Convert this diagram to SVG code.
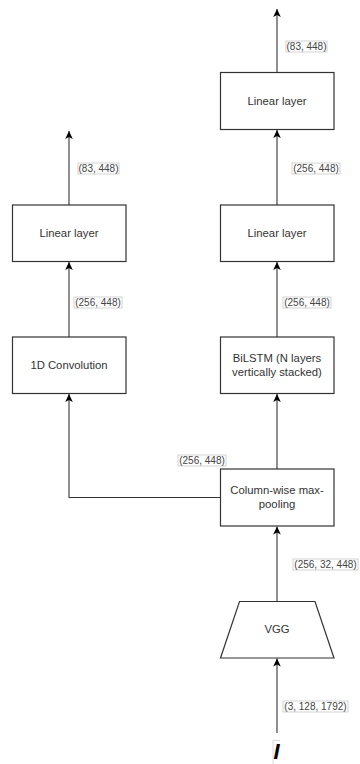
<svg xmlns="http://www.w3.org/2000/svg" width="360" height="764" viewBox="0 0 360 764">
<defs>
<marker id="arr" markerUnits="userSpaceOnUse" markerWidth="10" markerHeight="10" viewBox="0 0 10 10" refX="9" refY="5" orient="auto">
<path d="M1,1.2 L9,5 L1,8.8 L3,5 z" fill="#000"/>
</marker>
<style>
.box{fill:#fff;stroke:#333;stroke-width:1.2}
.t{font-family:"Liberation Sans",Arial,sans-serif;font-size:11.3px;fill:#333;text-anchor:middle}
.lb{fill:#fff;stroke:#c8c8c8;stroke-width:0.8}
.lt{font-family:"Liberation Sans",Arial,sans-serif;font-size:10px;fill:#444;text-anchor:middle}
.c{fill:none;stroke:#333;stroke-width:1.1;marker-end:url(#arr)}
</style>
</defs>
<rect width="360" height="764" fill="#fff"/>
<g id="connectors">
<path class="c" d="M277,72.5 V9"/>
<path class="c" d="M277,205 V130"/>
<path class="c" d="M277,337 V262"/>
<path class="c" d="M277,469 V394"/>
<path class="c" d="M277,601 V526.5"/>
<path class="c" d="M277,733 V658.5"/>
<path class="c" d="M69,205 V131"/>
<path class="c" d="M69,337 V262"/>
<path class="c" d="M220,497.5 H69 V394"/>
</g>
<g id="labels">
<g><rect class="lb" x="286" y="41" width="41" height="11"/><text class="lt" x="306.5" y="50">(83, 448)</text></g>
<g><rect class="lb" x="78" y="163" width="41" height="11"/><text class="lt" x="98.5" y="172">(83, 448)</text></g>
<g><rect class="lb" x="292" y="163" width="48" height="11"/><text class="lt" x="316" y="172">(256, 448)</text></g>
<g><rect class="lb" x="74" y="297" width="48" height="11"/><text class="lt" x="98" y="306">(256, 448)</text></g>
<g><rect class="lb" x="283" y="297" width="48" height="11"/><text class="lt" x="307" y="306">(256, 448)</text></g>
<g><rect class="lb" x="178" y="455" width="48" height="11"/><text class="lt" x="202" y="464">(256, 448)</text></g>
<g><rect class="lb" x="293" y="559" width="65" height="11"/><text class="lt" x="325.5" y="568">(256, 32, 448)</text></g>
<g><rect class="lb" x="283" y="701" width="65" height="11"/><text class="lt" x="315.5" y="710">(3, 128, 1792)</text></g>
</g>
<g id="linear-right-top"><rect class="box" x="220.5" y="72.5" width="113.5" height="57"/><text class="t" x="277" y="105">Linear layer</text></g>
<g id="linear-right"><rect class="box" x="220.5" y="205" width="113.5" height="56.5"/><text class="t" x="277" y="237">Linear layer</text></g>
<g id="linear-left"><rect class="box" x="12.5" y="205" width="113.5" height="56.5"/><text class="t" x="69" y="237">Linear layer</text></g>
<g id="conv1d"><rect class="box" x="12.5" y="337" width="113.5" height="56.5"/><text class="t" x="69" y="369">1D Convolution</text></g>
<g id="bilstm"><rect class="box" x="220.5" y="337" width="113.5" height="56.5"/><text class="t" x="277" y="362">BiLSTM (N layers</text><text class="t" x="277" y="376">vertically stacked)</text></g>
<g id="maxpool"><rect class="box" x="220.5" y="469" width="113.5" height="57"/><text class="t" x="277" y="494">Column-wise max-</text><text class="t" x="277" y="508">pooling</text></g>
<g id="vgg"><path class="box" d="M239.5,601.5 H315 L334,658 H220.5 Z"/><text class="t" x="277" y="633">VGG</text></g>
<g id="input"><path d="M273,764 V740.5 H280" fill="none" stroke="#d0d0d0" stroke-width="0.8"/><text x="276.5" y="758.5" font-family="'Liberation Sans',Arial,sans-serif" font-size="22" font-weight="bold" font-style="italic" fill="#000" text-anchor="middle">I</text></g>
</svg>
